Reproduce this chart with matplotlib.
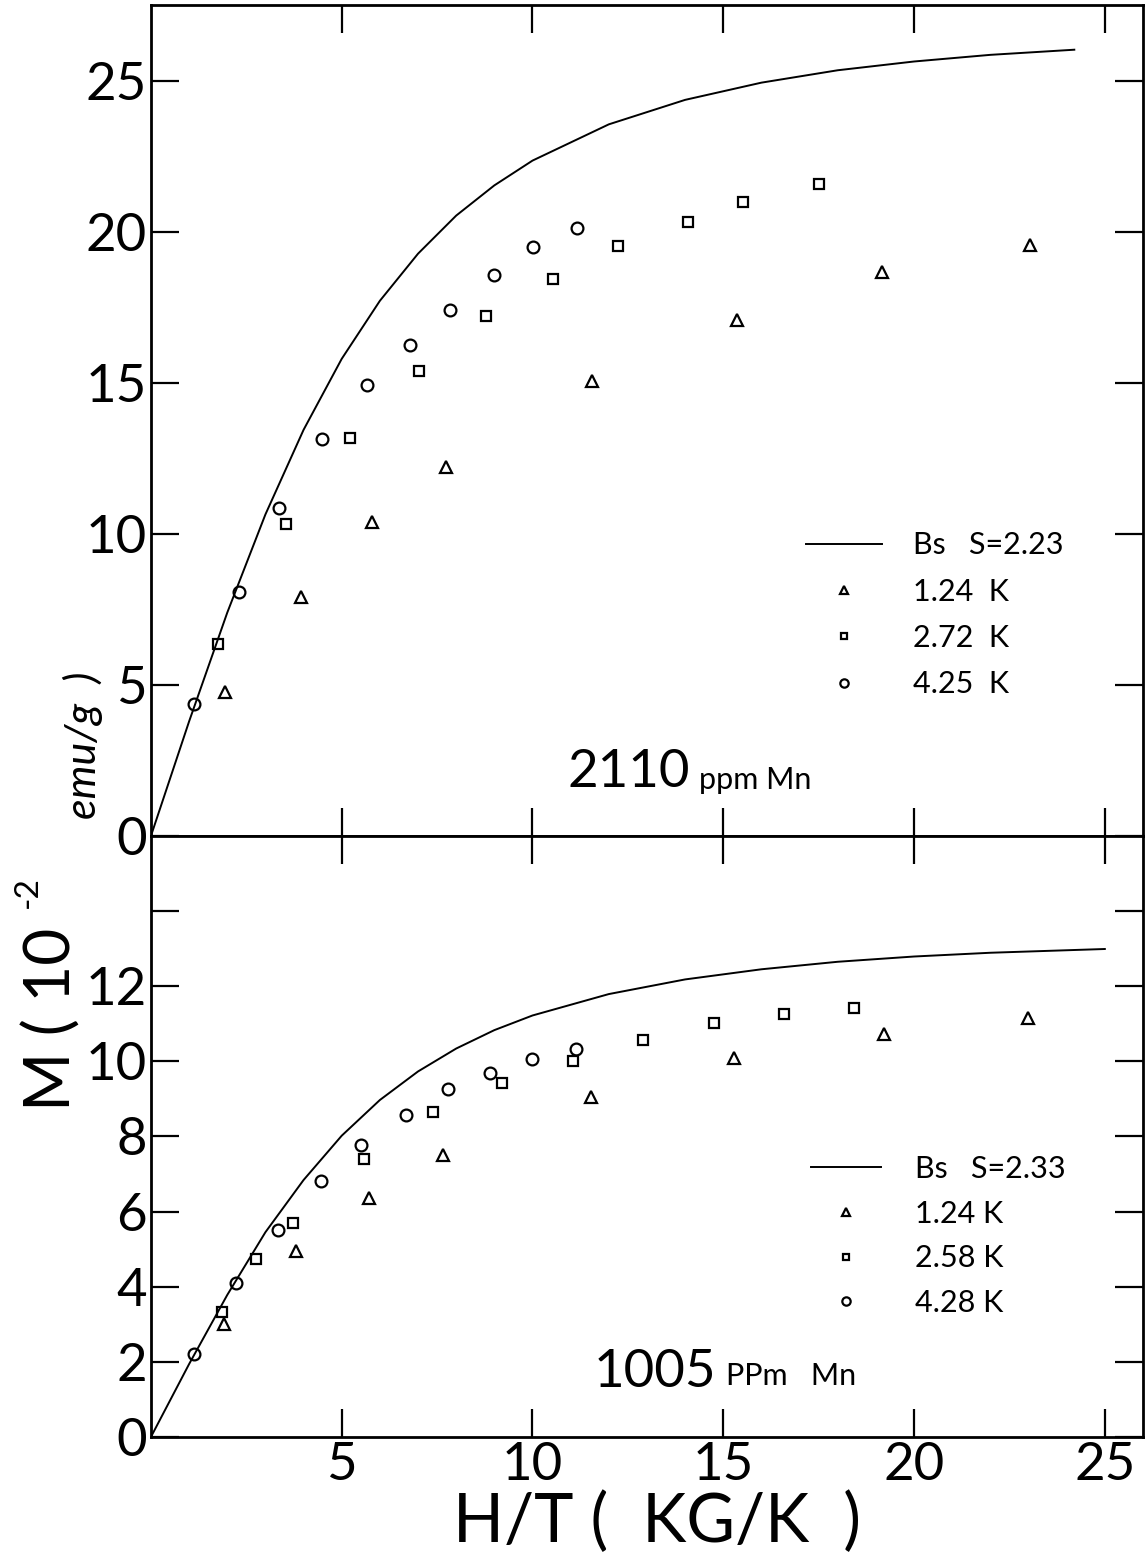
import matplotlib
matplotlib.use("Agg")
import matplotlib.pyplot as plt
from matplotlib.lines import Line2D
from matplotlib.ticker import FixedLocator, FixedFormatter

plt.rcParams['font.family'] = ['Lato', 'DejaVu Sans']
plt.rcParams['text.color'] = 'black'

# top panel, 2110 ppm Mn
h_curve_top = [0, 1, 2, 3, 4, 5, 6, 7, 8, 9, 10, 12, 14, 16, 18, 20, 22, 24.2]
m_curve_top = [0, 3.79, 7.39, 10.64, 13.44, 15.79, 17.71, 19.27, 20.53, 21.53,
               22.35, 23.55, 24.36, 24.93, 25.34, 25.63, 25.85, 26.02]
h_tri_top = [1.94, 3.92, 5.80, 7.72, 11.56, 15.37, 19.17, 23.03]
m_tri_top = [4.77, 7.92, 10.39, 12.22, 15.05, 17.09, 18.67, 19.57]
h_sq_top = [1.76, 3.55, 5.21, 7.02, 8.79, 10.55, 12.25, 14.07, 15.52, 17.51]
m_sq_top = [6.35, 10.32, 13.17, 15.40, 17.21, 18.43, 19.54, 20.32, 20.97, 21.59]
h_circ_top = [1.13, 2.31, 3.36, 4.49, 5.65, 6.80, 7.83, 8.98, 10.01, 11.16]
m_circ_top = [4.36, 8.06, 10.86, 13.12, 14.93, 16.24, 17.42, 18.55, 19.48, 20.13]
labels_top = ["Bs   S=2.23", "1.24  K", "2.72  K", "4.25  K"]

# bottom panel, 1005 ppm Mn
h_curve_bot = [0, 1, 2, 3, 4, 5, 6, 7, 8, 9, 10, 12, 14, 16, 18, 20, 22, 25]
m_curve_bot = [0, 1.94, 3.78, 5.45, 6.84, 8.02, 8.97, 9.73, 10.34, 10.83,
               11.22, 11.79, 12.18, 12.45, 12.65, 12.79, 12.89, 12.99]
h_tri_bot = [1.92, 3.81, 5.72, 7.66, 11.54, 15.27, 19.20, 22.98]
m_tri_bot = [3.00, 4.96, 6.36, 7.50, 9.06, 10.08, 10.74, 11.14]
h_sq_bot = [1.85, 2.76, 3.71, 5.58, 7.38, 9.21, 11.07, 12.90, 14.75, 16.58, 18.43]
m_sq_bot = [3.33, 4.75, 5.69, 7.41, 8.64, 9.41, 10.02, 10.57, 11.03, 11.25, 11.41]
h_circ_bot = [1.12, 2.23, 3.34, 4.46, 5.51, 6.68, 7.79, 8.88, 10.00, 11.15]
m_circ_bot = [2.21, 4.11, 5.52, 6.82, 7.78, 8.58, 9.25, 9.69, 10.05, 10.32]
labels_bot = ["Bs   S=2.33", "1.24 K", "2.58 K", "4.28 K"]

x_ticks = [5, 10, 15, 20, 25]
y_ticks_top = [0, 5, 10, 15, 20, 25]
y_ticks_bot = [0, 2, 4, 6, 8, 10, 12, 14]
y_ticklabels_bot = ["0", "2", "4", "6", "8", "10", "12", ""]

fig = plt.figure(figsize=(11.47, 15.59), dpi=100)
ax1 = fig.add_axes([0.1316, 0.4638, 0.8649, 0.5330])
ax2 = fig.add_axes([0.1316, 0.0783, 0.8649, 0.3855])

mk = dict(ls='none', mfc='none', mec='black', mew=1.6)


def draw_panel(ax, hc, mc, ht, mt, hs, ms_, hc2, mc2):
    ax.plot(hc, mc, color='black', lw=1.4)
    ax.plot(ht, mt, marker='^', ms=9, **mk)
    ax.plot(hs, ms_, marker='s', ms=7.5, **mk)
    ax.plot(hc2, mc2, marker='o', ms=8.5, **mk)
    ax.set_xlim(0, 26)
    for sp in ax.spines.values():
        sp.set_linewidth(2)
    ax.tick_params(direction='in', length=20, width=1.6, top=True, right=True,
                   labelsize=38, pad=3)


draw_panel(ax1, h_curve_top, m_curve_top, h_tri_top, m_tri_top,
           h_sq_top, m_sq_top, h_circ_top, m_circ_top)
ax1.set_ylim(0, 27.5)
ax1.xaxis.set_major_locator(FixedLocator(x_ticks))
ax1.set_xticklabels([])
ax1.yaxis.set_major_locator(FixedLocator(y_ticks_top))

draw_panel(ax2, h_curve_bot, m_curve_bot, h_tri_bot, m_tri_bot,
           h_sq_bot, m_sq_bot, h_circ_bot, m_circ_bot)
ax2.set_ylim(0, 16)
ax2.xaxis.set_major_locator(FixedLocator(x_ticks))
ax2.yaxis.set_major_locator(FixedLocator(y_ticks_bot))
ax2.yaxis.set_major_formatter(FixedFormatter(y_ticklabels_bot))
ax2.tick_params(axis='x', pad=4, labelsize=38)


def legend_handles():
    return [Line2D([], [], color='black', lw=1.4),
            Line2D([], [], marker='^', ms=6, **mk),
            Line2D([], [], marker='s', ms=5, **mk),
            Line2D([], [], marker='o', ms=6, **mk)]


ax1.legend(legend_handles(), labels_top, loc='upper left',
           bbox_to_anchor=(0.645, 0.385), frameon=False, fontsize=22,
           handlelength=2.5, handletextpad=1.0, labelspacing=0.6, borderpad=0)
ax2.legend(legend_handles(), labels_bot, loc='upper left',
           bbox_to_anchor=(0.650, 0.495), frameon=False, fontsize=22,
           handlelength=2.3, handletextpad=1.1, labelspacing=0.55, borderpad=0)

ax1.text(0.482, 0.076, "2110", transform=ax1.transAxes, fontsize=38,
         ha='center', va='center')
ax1.text(0.552, 0.056, "ppm Mn", transform=ax1.transAxes, fontsize=22,
         ha='left', va='baseline')
ax2.text(0.508, 0.108, "1005", transform=ax2.transAxes, fontsize=38,
         ha='center', va='center')
ax2.text(0.580, 0.087, "PPm   Mn", transform=ax2.transAxes, fontsize=22,
         ha='left', va='baseline')

# y label in pieces, like the hand lettering
fig.text(0.045, 0.346, "M ( 10", rotation=90, fontsize=46, ha='center', va='center')
fig.text(0.024, 0.428, "-2", rotation=90, fontsize=24, ha='center', va='center')
fig.text(0.072, 0.522, "emu/g  )", rotation=90, fontsize=31, style='italic',
         ha='center', va='center')

fig.text(0.573, 0.011, "H/T (  KG/K  )", fontsize=48, ha='center', va='baseline')

fig.savefig("out.png", dpi=100)
